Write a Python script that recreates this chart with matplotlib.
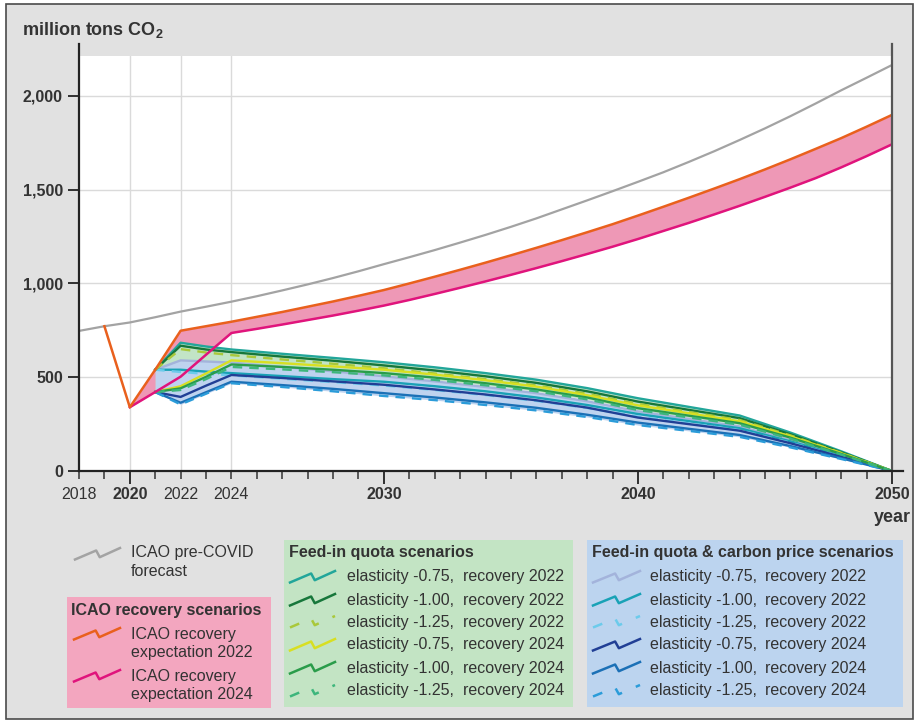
import numpy as np
import matplotlib
matplotlib.use("Agg")
import matplotlib.pyplot as plt
from matplotlib.lines import Line2D
from matplotlib.patches import Rectangle

plt.rcParams['font.family'] = ['Liberation Sans', 'DejaVu Sans']
plt.rcParams['mathtext.fontset'] = 'custom'
plt.rcParams['mathtext.rm'] = 'Liberation Sans'
plt.rcParams['mathtext.bf'] = 'Liberation Sans:bold'

W, H = 916, 723
TXT = '#333333'

# --- data (million tons CO2) ---
pre_years = list(range(2018, 2051))
pre_covid = [747, 772, 792, 820, 850, 876, 903, 932, 963, 995, 1029, 1065, 1103,
             1140, 1178, 1218, 1259, 1302, 1347, 1395, 1443, 1492, 1542, 1593,
             1648, 1705, 1765, 1827, 1892, 1960, 2030, 2097, 2165]

rec22_years = list(range(2019, 2051))
rec22 = [772, 340, 540, 748, 772, 796, 822, 848, 876, 904, 934, 965, 1000, 1036,
         1073, 1111, 1150, 1190, 1231, 1273, 1316, 1362, 1409, 1457, 1506, 1556,
         1608, 1662, 1718, 1775, 1836, 1899]

rec24_years = list(range(2020, 2051))
rec24 = [340, 421, 503, 620, 736, 758, 781, 805, 829, 855, 882, 912, 944, 977,
         1011, 1046, 1082, 1119, 1157, 1196, 1237, 1280, 1323, 1368, 1414, 1462,
         1511, 1562, 1619, 1679, 1742]

sc_years = [2021, 2022, 2023, 2024, 2026, 2028, 2030, 2032, 2034, 2036, 2038,
            2040, 2042, 2044, 2046, 2048, 2050]

# feed-in quota scenarios
fq_075_r22 = [540, 684, 664, 648, 625, 603, 580, 553, 522, 487, 442, 388, 342, 296, 205, 105, 0]
fq_100_r22 = [540, 668, 648, 634, 610, 588, 563, 536, 505, 470, 425, 370, 326, 282, 196, 100, 0]
fq_125_r22 = [540, 650, 632, 618, 595, 572, 548, 520, 490, 456, 412, 358, 315, 272, 190, 97, 0]
fq_075_r24 = [421, 452, 520, 590, 575, 558, 540, 514, 484, 450, 404, 350, 308, 265, 185, 95, 0]
fq_100_r24 = [421, 441, 502, 568, 555, 540, 522, 498, 468, 435, 392, 335, 295, 255, 178, 91, 0]
fq_125_r24 = [421, 432, 490, 555, 542, 527, 510, 486, 457, 425, 382, 325, 286, 247, 172, 88, 0]

# feed-in quota & carbon price scenarios
cp_075_r22 = [540, 590, 584, 578, 555, 532, 505, 478, 448, 415, 372, 318, 278, 238, 165, 85, 0]
cp_100_r22 = [540, 540, 530, 522, 506, 490, 476, 452, 425, 392, 352, 304, 266, 228, 158, 81, 0]
cp_125_r22 = [540, 528, 518, 510, 492, 474, 456, 432, 405, 374, 336, 290, 254, 218, 151, 77, 0]
cp_075_r24 = [421, 395, 455, 512, 496, 478, 460, 435, 408, 377, 338, 285, 250, 215, 148, 76, 0]
cp_100_r24 = [421, 364, 420, 476, 458, 438, 415, 392, 366, 337, 300, 258, 225, 192, 133, 68, 0]
cp_125_r24 = [421, 355, 412, 468, 448, 425, 400, 378, 352, 323, 288, 245, 214, 182, 126, 64, 0]

labels = ['elasticity -0.75,', 'elasticity -1.00,', 'elasticity -1.25,',
          'elasticity -0.75,', 'elasticity -1.00,', 'elasticity -1.25,']
recov = ['recovery 2022'] * 3 + ['recovery 2024'] * 3

fq_series = [fq_075_r22, fq_100_r22, fq_125_r22, fq_075_r24, fq_100_r24, fq_125_r24]
fq_colors = ['#22a69a', '#17773b', '#a9c83a', '#d8df22', '#2a9c4a', '#3db67c']
cp_series = [cp_075_r22, cp_100_r22, cp_125_r22, cp_075_r24, cp_100_r24, cp_125_r24]
cp_colors = ['#a3b3db', '#19a2b6', '#6ccbeb', '#213f95', '#1b70b6', '#2b9cd9']
dashed = [False, False, True, False, False, True]
DASH = (0, (4, 3))
ICON_DASH = (0, (4, 6))

c_gray = '#a3a3a3'
c_orange = '#e9601d'
c_pink = '#e0147c'

# --- figure ---
fig = plt.figure(figsize=(W / 100, H / 100), dpi=100, facecolor='white')


def fx(px):
    return px / W


def fy(py):
    return 1 - py / H


fig.add_artist(Rectangle((fx(6), fy(719)), fx(913) - fx(6), fy(4) - fy(719),
                         transform=fig.transFigure, facecolor='#e1e1e1',
                         edgecolor='#4a4a4a', lw=1.2, zorder=0))

ax = fig.add_axes([fx(79), fy(471), fx(892) - fx(79), fy(56) - fy(471)])
ax.set_facecolor('white')
ax.set_xlim(2018, 2050)
ax.set_ylim(0, 2213)
for s in ax.spines.values():
    s.set_visible(False)

# grid
for v in [500, 1000, 1500, 2000]:
    ax.axhline(v, color='#dadada', lw=1, zorder=0)
for v in [2020, 2022, 2024]:
    ax.axvline(v, color='#dadada', lw=1, zorder=0)

# axis lines, extended a bit beyond the plot area
ax.plot([0, 0], [0, 1.03], transform=ax.transAxes, color='#222222', lw=1.6, clip_on=False, zorder=6)
ax.plot([1, 1], [0, 1.03], transform=ax.transAxes, color='#555555', lw=1.6, clip_on=False, zorder=6)
ax.plot([0, 1.014], [0, 0], transform=ax.transAxes, color='#222222', lw=1.6, clip_on=False, zorder=6)

# ticks
ax.set_yticks([0, 500, 1000, 1500, 2000], ['0', '500', '1,000', '1,500', '2,000'])
ax.tick_params(axis='y', direction='out', length=8, width=1.3, pad=3.6, colors='#222222',
               labelsize=11.5, labelcolor=TXT)
for t in ax.get_yticklabels():
    t.set_fontweight('bold')

ax.set_xticks([2020, 2030, 2040, 2050], ['2020', '2030', '2040', '2050'])
minor = [y for y in range(2018, 2051) if y not in (2020, 2030, 2040, 2050)]
ax.set_xticks(minor, [str(y) if y in (2018, 2022, 2024) else '' for y in minor], minor=True)
ax.tick_params(axis='x', which='major', direction='out', length=9.5, width=1.3, pad=2.3,
               colors='#222222', labelsize=11.5, labelcolor=TXT)
ax.tick_params(axis='x', which='minor', direction='out', length=6, width=1.1, pad=5.8,
               colors='#333333', labelsize=11.5, labelcolor=TXT)
for t in ax.get_xticklabels():
    t.set_fontweight('bold')

# pre-COVID forecast
ax.plot(pre_years, pre_covid, color=c_gray, lw=1.6, zorder=3)

# recovery band
ax.fill_between(rec24_years, rec22[1:], rec24, color='#ee98b6', lw=0, zorder=2)

# scenario ranges
fq_arr = np.array(fq_series)
cp_arr = np.array(cp_series)
ax.fill_between(sc_years, fq_arr.min(axis=0), fq_arr.max(axis=0), color='#c2e4c6', lw=0, zorder=2)
ax.fill_between(sc_years, cp_arr.min(axis=0), cp_arr.max(axis=0), color='#bed3ef', lw=0, zorder=2)

for vals, col, d in zip(cp_series, cp_colors, dashed):
    ax.plot(sc_years, vals, color=col, lw=1.7, ls=DASH if d else '-', zorder=4)
for vals, col, d in zip(fq_series, fq_colors, dashed):
    ax.plot(sc_years, vals, color=col, lw=1.7, ls=DASH if d else '-', zorder=4)

ax.plot(rec24_years, rec24, color=c_pink, lw=1.8, zorder=5)
ax.plot(rec22_years, rec22, color=c_orange, lw=1.8, zorder=5)

# titles
fig.text(fx(22), fy(30), r'million tons CO$_{\mathbf{2}}$', fontsize=13, fontweight='bold',
         color=TXT, va='center', ha='left')
fig.text(fx(892), fy(518), 'year', fontsize=13, fontweight='bold', color=TXT,
         va='center', ha='center')


# --- legend ---
def icon(x0, x1, yc, color, dash=False):
    xs = [x0 + f * (x1 - x0) for f in (0, 0.47, 0.55, 1)]
    ys = [yc + d for d in (5.5, -3.5, 3.2, -6)]
    fig.add_artist(Line2D([fx(x) for x in xs], [fy(y) for y in ys], transform=fig.transFigure,
                          color=color, lw=1.8, ls=ICON_DASH if dash else '-'))


def box(x0, y0, x1, y1, color):
    fig.add_artist(Rectangle((fx(x0), fy(y1)), fx(x1) - fx(x0), fy(y0) - fy(y1),
                             transform=fig.transFigure, facecolor=color, lw=0, zorder=1))


FS = 11.5
icon(75, 120, 554, c_gray)
fig.text(fx(131), fy(552), 'ICAO pre-COVID', fontsize=FS, color=TXT, va='center')
fig.text(fx(131), fy(571), 'forecast', fontsize=FS, color=TXT, va='center')

box(67, 597, 271, 708, '#f3a6bf')
fig.text(fx(71), fy(610), 'ICAO recovery scenarios', fontsize=FS, fontweight='bold',
         color=TXT, va='center')
icon(74, 120, 634, c_orange)
fig.text(fx(131), fy(634), 'ICAO recovery', fontsize=FS, color=TXT, va='center')
fig.text(fx(131), fy(653), 'expectation 2022', fontsize=FS, color=TXT, va='center')
icon(74, 120, 676, c_pink)
fig.text(fx(131), fy(676), 'ICAO recovery', fontsize=FS, color=TXT, va='center')
fig.text(fx(131), fy(694), 'expectation 2024', fontsize=FS, color=TXT, va='center')

rows = [577, 600, 622, 645, 668, 691]

box(284, 540, 573, 707, '#c3e4c4')
fig.text(fx(289), fy(552), 'Feed-in quota scenarios', fontsize=FS, fontweight='bold',
         color=TXT, va='center')
for yc, col, d, lab, rec in zip(rows, fq_colors, dashed, labels, recov):
    icon(290, 335, yc, col, d)
    fig.text(fx(347), fy(yc), lab, fontsize=FS, color=TXT, va='center')
    fig.text(fx(463), fy(yc), rec, fontsize=FS, color=TXT, va='center')

box(587, 540, 903, 707, '#bcd4ef')
fig.text(fx(592), fy(552), 'Feed-in quota & carbon price scenarios', fontsize=FS,
         fontweight='bold', color=TXT, va='center')
for yc, col, d, lab, rec in zip(rows, cp_colors, dashed, labels, recov):
    icon(593, 640, yc, col, d)
    fig.text(fx(650), fy(yc), lab, fontsize=FS, color=TXT, va='center')
    fig.text(fx(765), fy(yc), rec, fontsize=FS, color=TXT, va='center')

fig.savefig('out.png', dpi=100, facecolor=fig.get_facecolor())
